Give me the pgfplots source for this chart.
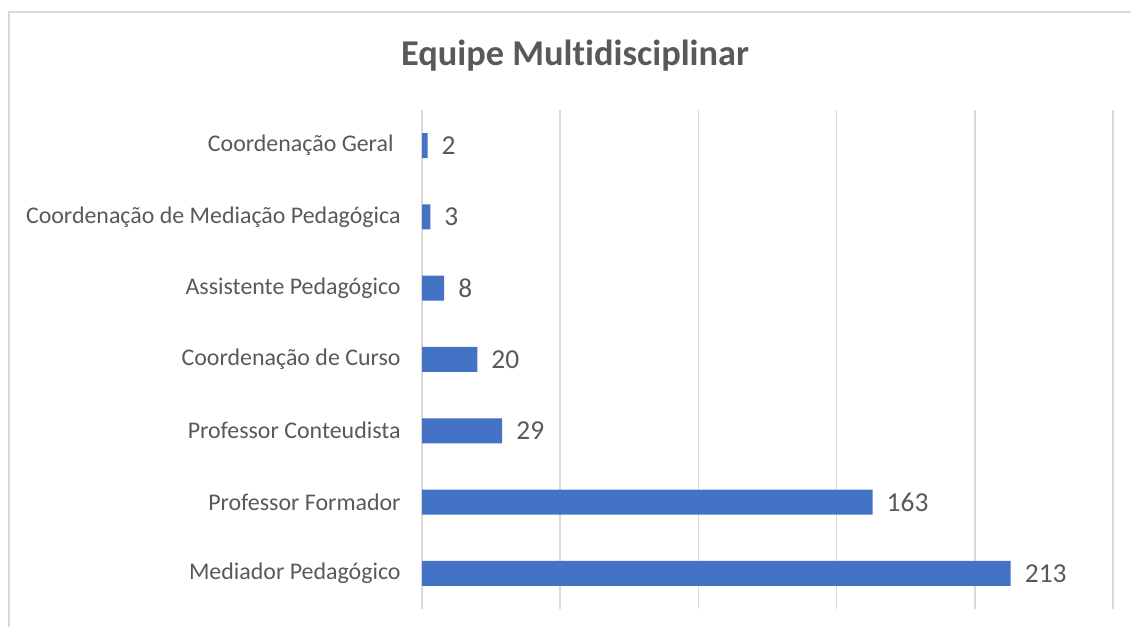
\documentclass[border=0pt]{standalone}
\usepackage{pgfplots}
\pgfplotsset{compat=1.18}
\usepackage{fontspec}
\setmainfont{Carlito}[Ligatures=NoCommon]
\definecolor{barblue}{HTML}{4472C4}
\definecolor{txt}{HTML}{595959}
\definecolor{gridc}{HTML}{D9D9D9}
\begin{document}
\begin{tikzpicture}[x=1bp,y=1bp]
\path[use as bounding box] (0,0) rectangle (1131,627);
\draw[gridc, line width=2bp] (9,-10) -- (9,615) -- (1140,615);
\node[anchor=base, text=txt, font=\fontsize{36.5}{36.5}\selectfont\bfseries] at (575,561) {Equipe Multidisciplinar};
\begin{axis}[
  at={(422bp,18bp)}, anchor=south west,
  scale only axis, width=691bp, height=499bp,
  xbar, bar width=25bp,
  xmin=0, xmax=250, ymin=-0.5, ymax=6.5,
  xtick={0,50,...,250}, xticklabels={},
  xmajorgrids, grid style={gridc, line width=1.5bp},
  axis line style={draw=none},
  major tick style={draw=none},
  ytick={0,...,6},
  yticklabels={Mediador Pedagógico, Professor Formador, Professor Conteudista, Coordenação de Curso, Assistente Pedagógico, Coordenação de Mediação Pedagógica, Coordenação Geral\hspace*{7bp}},
  yticklabel style={font=\fontsize{24}{24}\selectfont, text=txt, inner sep=0pt, anchor=east, xshift=-17bp},
  nodes near coords,
  /pgf/number format/assume math mode=true,
  nodes near coords style={font=\fontsize{27.5}{27.5}\selectfont, text=txt, anchor=west, inner sep=0pt, xshift=14bp},
]
\addplot[fill=barblue, draw=none] coordinates {(213,0) (163,1) (29,2) (20,3) (8,4) (3,5) (2,6)};
\end{axis}
\end{tikzpicture}
\end{document}
